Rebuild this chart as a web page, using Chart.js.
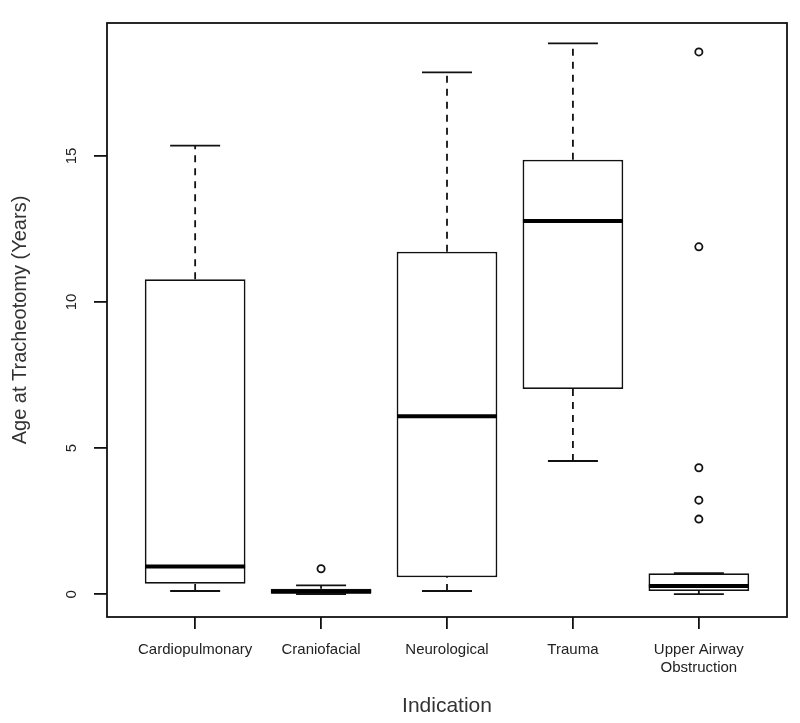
<!DOCTYPE html>
<html>
<head>
<meta charset="utf-8">
<script src="https://cdn.jsdelivr.net/npm/chart.js@4/dist/chart.umd.min.js"></script>
<style>
  body { margin: 0; background: #fff; }
  #wrap { width: 800px; height: 723px; }
</style>
</head>
<body>
<div id="wrap"><canvas id="boxChart"></canvas></div>
<script>
// --- data ---
const categories = ["Cardiopulmonary", "Craniofacial", "Neurological", "Trauma", ["Upper Airway", "Obstruction"]];
const whiskerLow  = [0.11, 0.00, 0.11, 4.56, 0.00];
const q1          = [0.36, 0.00, 0.58, 7.02, 0.11];
const medians     = [0.95, 0.08, 6.09, 12.77, 0.28];
const q3          = [10.78, 0.19, 11.72, 14.87, 0.72];
const whiskerHigh = [15.35, 0.30, 17.86, 18.85, 0.72];
const outlierGroup  = [2, 5, 5, 5, 5, 5];
const outlierValues = [0.87, 18.56, 11.89, 4.33, 3.22, 2.57];
const yTicks = [0, 5, 10, 15];

const ink = "#111";
const tickFont = { family: "'Liberation Sans', Arial, sans-serif", size: 15 };

// box bodies as floating bars
const boxData = categories.map((c, i) => ({ x: i + 1, y: [q1[i], q3[i]] }));
const medianData = categories.map((c, i) => ({ x: i + 1, y: medians[i] }));
const capData = [];
categories.forEach((c, i) => {
  capData.push({ x: i + 1, y: whiskerLow[i] });
  capData.push({ x: i + 1, y: whiskerHigh[i] });
});
// dashed whiskers, split by nulls
const whiskerData = [];
categories.forEach((c, i) => {
  whiskerData.push({ x: i + 1, y: q3[i] }, { x: i + 1, y: whiskerHigh[i] }, { x: i + 1, y: null });
  whiskerData.push({ x: i + 1, y: whiskerLow[i] }, { x: i + 1, y: q1[i] }, { x: i + 1, y: null });
});
const outlierData = outlierValues.map((v, i) => ({ x: outlierGroup[i], y: v }));

// frame around the plot region
const framePlugin = {
  id: "frame",
  afterDatasetsDraw(chart) {
    const { ctx, chartArea: a } = chart;
    ctx.save();
    ctx.strokeStyle = ink;
    ctx.lineWidth = 1.8;
    ctx.strokeRect(a.left, a.top, a.right - a.left, a.bottom - a.top);
    ctx.restore();
  }
};

new Chart(document.getElementById("boxChart"), {
  type: "bar",
  data: {
    datasets: [
      {
        type: "scatter", label: "median", data: medianData, order: 0,
        pointStyle: "line", pointRadius: 50, borderWidth: 4, borderColor: "#000"
      },
      {
        type: "scatter", label: "outliers", data: outlierData, order: 1,
        pointStyle: "circle", pointRadius: 3.6, borderWidth: 1.8,
        borderColor: ink, backgroundColor: "#fff"
      },
      {
        type: "scatter", label: "caps", data: capData, order: 2,
        pointStyle: "line", pointRadius: 25, borderWidth: 1.8, borderColor: ink
      },
      {
        type: "line", label: "whiskers", data: whiskerData, order: 3,
        spanGaps: false, pointRadius: 0, borderWidth: 1.8, borderColor: ink,
        borderDash: [7, 6], fill: false
      },
      {
        type: "bar", label: "box", data: boxData, order: 4,
        backgroundColor: "#fff", borderColor: ink, borderWidth: 1.8,
        borderSkipped: false, barPercentage: 1, categoryPercentage: 0.8
      }
    ]
  },
  options: {
    responsive: true,
    maintainAspectRatio: false,
    animation: false,
    layout: { autoPadding: false, padding: { top: 11, right: 13, left: 0, bottom: 0 } },
    plugins: { legend: { display: false }, tooltip: { enabled: false } },
    scales: {
      x: {
        type: "linear", min: 0.3, max: 5.7, offset: false,
        afterBuildTicks: s => { s.ticks = categories.map((c, i) => ({ value: i + 1 })); },
        afterFit: s => { s.height = 106; },
        ticks: {
          font: tickFont, color: "#222", padding: 12, maxRotation: 0, autoSkip: false,
          callback: (v, i) => categories[i]
        },
        grid: { drawOnChartArea: false, drawTicks: true, tickLength: 12, color: ink, lineWidth: 1.8, offset: false },
        border: { display: false },
        title: {
          display: true, text: "Indication", color: "#333",
          font: { family: "'Liberation Sans', Arial, sans-serif", size: 21 },
          padding: { top: 0, bottom: 4 }
        }
      },
      y: {
        type: "linear", min: -0.78, max: 19.55,
        afterBuildTicks: s => { s.ticks = yTicks.map(v => ({ value: v })); },
        afterFit: s => { s.width = 107; },
        ticks: {
          font: tickFont, color: "#222", padding: 14, minRotation: 90, maxRotation: 90,
          crossAlign: "center"
        },
        grid: { drawOnChartArea: false, drawTicks: true, tickLength: 13, color: ink, lineWidth: 1.8 },
        border: { display: false },
        title: {
          display: true, text: "Age at Tracheotomy (Years)", color: "#333",
          font: { family: "'Liberation Sans', Arial, sans-serif", size: 20 },
          padding: { top: 8, bottom: 0 }
        }
      }
    }
  },
  plugins: [framePlugin]
});
</script>
</body>
</html>
